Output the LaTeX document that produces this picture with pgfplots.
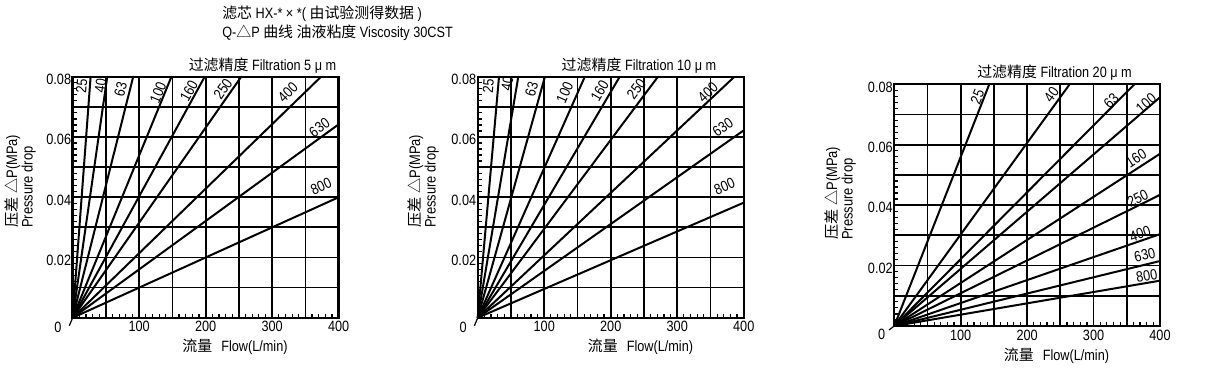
\documentclass[border=0pt]{standalone}
\usepackage{fontspec}
\setmainfont{Liberation Sans}[FakeStretch=0.85]
\newfontfamily\cjk{Noto Sans CJK SC}
\usepackage{pgfplots}
\pgfplotsset{compat=1.18}
\newcommand{\fnt}{\fontsize{11.2}{13}\selectfont}
\pgfplotsset{
 dl/.style={black, line width=1.5pt, mark=none, line cap=round},
 filt/.style={
  scale only axis, width=199.5pt, height=180.75pt,
  xmin=0, xmax=400, ymin=0, ymax=0.08,
  xtick={0,50,100,150,200,250,300,350,400},
  xticklabels={,,100,,200,,300,,400},
  ytick={0,0.01,0.02,0.03,0.04,0.05,0.06,0.07,0.08},
  yticklabels={,,0.02,,0.04,,0.06,,0.08},
  scaled y ticks=false, scaled x ticks=false,
  minor x tick num=4, minor y tick num=4,
  grid=major, major grid style={black, line width=1.3pt},
  major tick length=0pt, minor tick length=3pt,
  tick align=inside, tick pos=left,
  axis line style={black, line width=1.8pt},
  minor tick style={black, line width=0.9pt},
  ticklabel style={font=\fnt},
  xticklabel style={inner sep=2.5pt},
  yticklabel style={inner sep=1pt, yshift=-2pt},
  clip=false,
 }
}
\begin{document}
\begin{tikzpicture}
\useasboundingbox (0,0) rectangle (908.25pt,-283.5pt);
% main titles
\node[anchor=west, font=\fnt, inner sep=0pt] at (166.5pt,-10.1pt) {{\cjk 滤芯} HX-* × *( {\cjk 由试验测得数据} )};
\node[anchor=west, font=\fnt, inner sep=0pt] at (166.5pt,-24.4pt) {Q-{\cjk △}P {\cjk 曲线} {\cjk 油液粘度} Viscosity 30CST};

% ---------------- chart 1 : 5 um
\begin{axis}[filt, at={(54.5pt,-238.3pt)}, anchor=south west]
\addplot[dl] coordinates {(0,0) (27,0.08)};
\addplot[dl] coordinates {(0,0) (52,0.08)};
\addplot[dl] coordinates {(0,0) (91,0.08)};
\addplot[dl] coordinates {(0,0) (148.5,0.08)};
\addplot[dl] coordinates {(0,0) (198.5,0.08)};
\addplot[dl] coordinates {(0,0) (253.5,0.08)};
\addplot[dl] coordinates {(0,0) (373.5,0.08)};
\addplot[dl] coordinates {(0,0) (400,0.0642)};
\addplot[dl] coordinates {(0,0) (400,0.040)};
\node[rotate=85.7, font=\fnt] at (axis cs:13.5,0.0770) {25};
\node[rotate=81.8, font=\fnt] at (axis cs:42,0.0770) {40};
\node[rotate=75.9, font=\fnt] at (axis cs:72,0.0759) {63};
\node[rotate=67.7, font=\fnt] at (axis cs:128.5,0.0748) {100};
\node[rotate=61.4, font=\fnt] at (axis cs:175,0.0753) {160};
\node[rotate=55.0, font=\fnt] at (axis cs:226,0.0759) {250};
\node[rotate=44.1, font=\fnt] at (axis cs:323.5,0.0748) {400};
\node[rotate=36.0, font=\fnt] at (axis cs:371,0.0631) {630};
\node[rotate=24.4, font=\fnt] at (axis cs:373.5,0.0437) {800};
\node[font=\fnt] at (rel axis cs:0,0) [xshift=-11pt, yshift=-7.5pt] {0};
\draw[black, line width=0.9pt] (rel axis cs:0,0) -- ++(-2.5pt,-6pt);
\end{axis}
\node[font=\fnt] at (196.9pt,-49.5pt) {{\cjk 过滤精度} Filtration 5 μ m};
\node[font=\fnt] at (176.25pt,-260.25pt) {{\cjk 流量}\hspace{0.6em}Flow(L/min)};
\node[rotate=90, anchor=north west, align=left, inner sep=0pt, font=\fontsize{11.4}{8.4}\selectfont] at (3pt,-171pt) {{\cjk 压差} {\cjk △}P(MPa)\\Pressure drop};

% ---------------- chart 2 : 10 um
\begin{axis}[filt, at={(358.3pt,-238.3pt)}, anchor=south west]
\addplot[dl] coordinates {(0,0) (32,0.08)};
\addplot[dl] coordinates {(0,0) (61,0.08)};
\addplot[dl] coordinates {(0,0) (101,0.08)};
\addplot[dl] coordinates {(0,0) (161,0.08)};
\addplot[dl] coordinates {(0,0) (213.5,0.08)};
\addplot[dl] coordinates {(0,0) (271,0.08)};
\addplot[dl] coordinates {(0,0) (386,0.08)};
\addplot[dl] coordinates {(0,0) (400,0.0622)};
\addplot[dl] coordinates {(0,0) (400,0.0382)};
\node[rotate=85.0, font=\fnt] at (axis cs:16,0.0770) {25};
\node[rotate=80.4, font=\fnt] at (axis cs:44.5,0.0776) {40};
\node[rotate=74.4, font=\fnt] at (axis cs:81,0.0759) {63};
\node[rotate=66.0, font=\fnt] at (axis cs:131,0.0748) {100};
\node[rotate=59.5, font=\fnt] at (axis cs:183.5,0.0753) {160};
\node[rotate=53.2, font=\fnt] at (axis cs:238.5,0.0759) {250};
\node[rotate=43.2, font=\fnt] at (axis cs:346,0.0748) {400};
\node[rotate=35.2, font=\fnt] at (axis cs:368.5,0.0631) {630};
\node[rotate=23.4, font=\fnt] at (axis cs:371,0.0437) {800};
\node[font=\fnt] at (rel axis cs:0,0) [xshift=-11pt, yshift=-7.5pt] {0};
\draw[black, line width=0.9pt] (rel axis cs:0,0) -- ++(-2.5pt,-6pt);
\end{axis}
\node[font=\fnt] at (479.25pt,-49.5pt) {{\cjk 过滤精度} Filtration 10 μ m};
\node[font=\fnt] at (480.4pt,-260.25pt) {{\cjk 流量}\hspace{0.6em}Flow(L/min)};
\node[rotate=90, anchor=north west, align=left, inner sep=0pt, font=\fontsize{11.4}{8.4}\selectfont] at (305.25pt,-171pt) {{\cjk 压差} {\cjk △}P(MPa)\\Pressure drop};

% ---------------- chart 3 : 20 um
\begin{axis}[filt, width=199.3pt, height=181.3pt, at={(670.7pt,-244.5pt)}, anchor=south west]
\addplot[dl] coordinates {(0,0) (143,0.08)};
\addplot[dl] coordinates {(0,0) (264,0.08)};
\addplot[dl] coordinates {(0,0) (361.5,0.08)};
\addplot[dl] coordinates {(0,0) (400,0.0757)};
\addplot[dl] coordinates {(0,0) (400,0.0570)};
\addplot[dl] coordinates {(0,0) (400,0.0434)};
\addplot[dl] coordinates {(0,0) (400,0.0304)};
\addplot[dl] coordinates {(0,0) (400,0.0215)};
\addplot[dl] coordinates {(0,0) (400,0.0150)};
\node[rotate=68.5, font=\fnt] at (axis cs:125,0.0759) {25};
\node[rotate=54.0, font=\fnt] at (axis cs:236.5,0.0765) {40};
\node[rotate=45.2, font=\fnt] at (axis cs:326.5,0.0746) {63};
\node[rotate=40.7, font=\fnt] at (axis cs:379,0.0737) {100};
\node[rotate=33.0, font=\fnt] at (axis cs:364,0.0555) {160};
\node[rotate=26.3, font=\fnt] at (axis cs:366.5,0.0423) {250};
\node[rotate=19.1, font=\fnt] at (axis cs:370,0.0305) {400};
\node[rotate=13.7, font=\fnt] at (axis cs:377,0.0235) {630};
\node[rotate=9.7, font=\fnt] at (axis cs:380,0.0166) {800};
\node[font=\fnt] at (rel axis cs:0,0) [xshift=-9.5pt, yshift=-6pt] {0};
\draw[black, line width=0.9pt] (rel axis cs:0,0) -- ++(-4pt,-3pt);
\end{axis}
\node[font=\fnt] at (790.9pt,-54.75pt) {{\cjk 过滤精度} Filtration 20 μ m};
\node[font=\fnt] at (792.4pt,-267pt) {{\cjk 流量}\hspace{0.6em}Flow(L/min)};
\node[rotate=90, anchor=north west, align=left, inner sep=0pt, font=\fontsize{11.4}{8.4}\selectfont] at (618pt,-180pt) {{\cjk 压差} {\cjk △}P(MPa)\\Pressure drop};
\end{tikzpicture}
\end{document}
